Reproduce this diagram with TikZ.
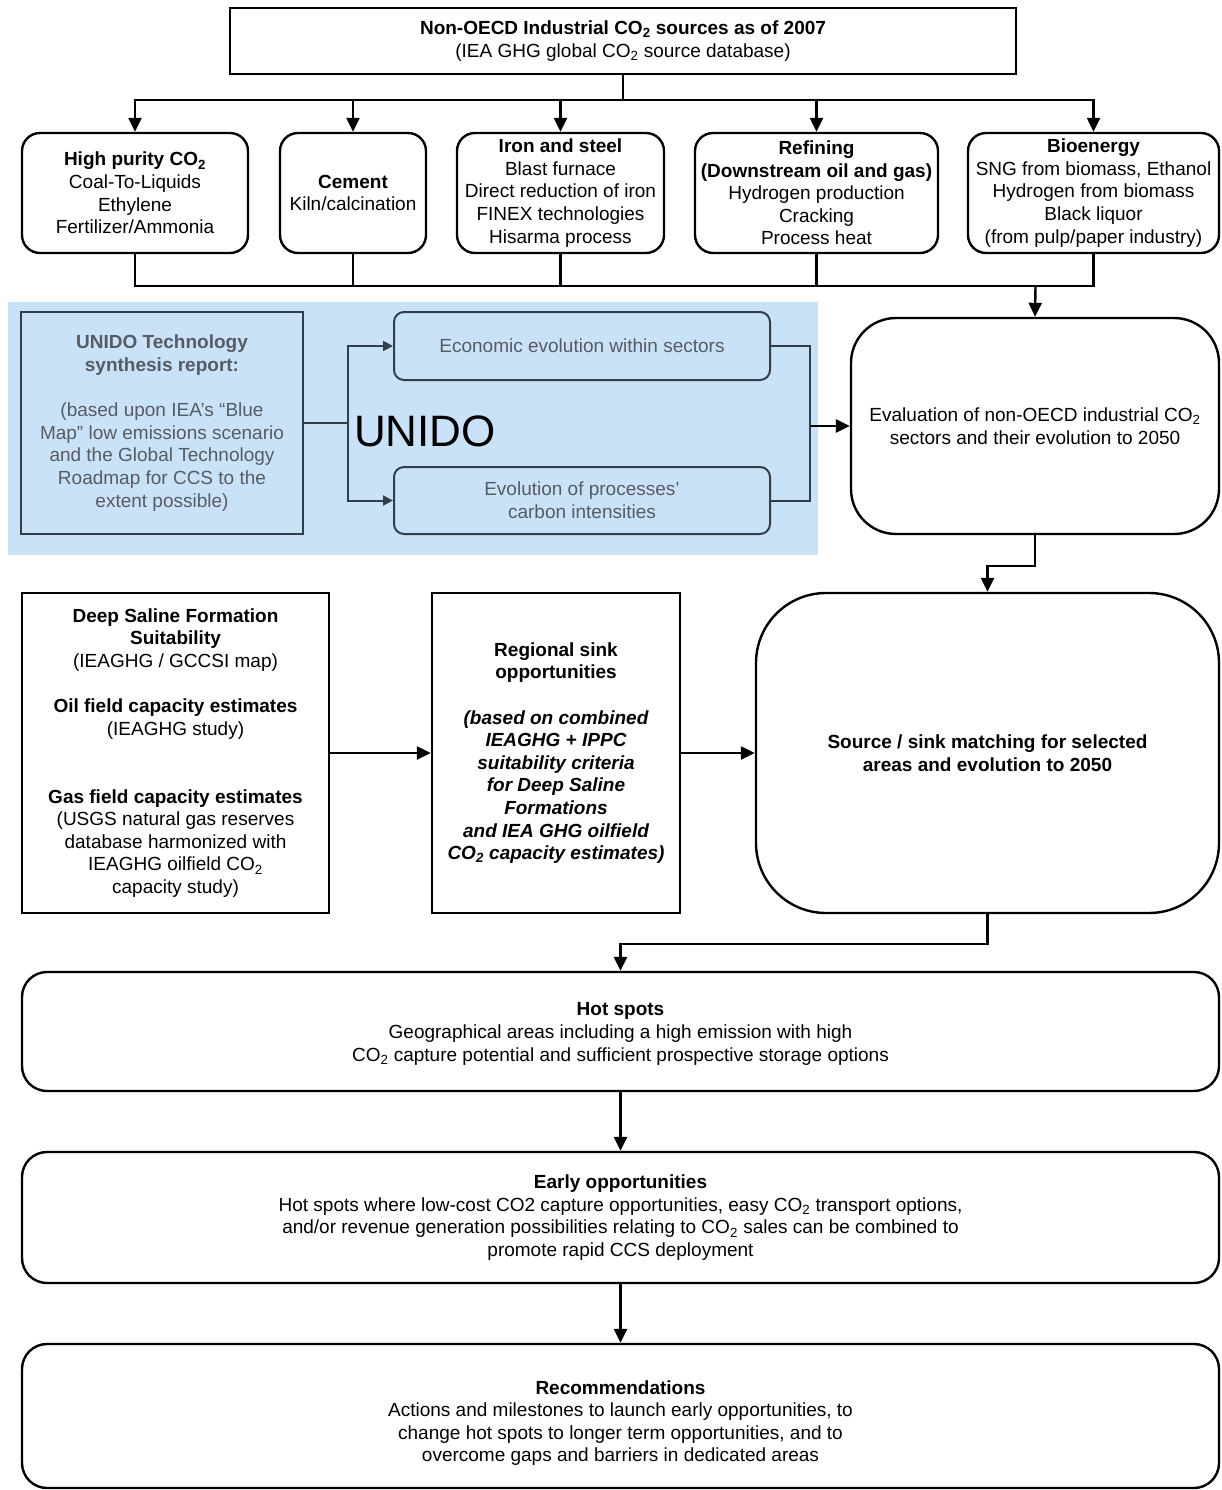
\documentclass[tikz,border=0pt]{standalone}
\usepackage{fontspec}
\setmainfont{Liberation Sans}
\usetikzlibrary{arrows.meta}
\definecolor{bluebg}{RGB}{202,226,248}
\definecolor{uline}{RGB}{50,62,76}
\definecolor{utext}{RGB}{85,92,100}
\newcommand{\cotwo}{CO\textsubscript{2}}
\begin{document}
\begin{tikzpicture}[x=1pt,y=-1pt,
  base/.style={draw, line width=2.4pt, align=center, font=\fontsize{19}{22.6}\selectfont, inner sep=0pt},
  rnd/.style={base, rounded corners=#1},
  txt/.style={align=center, font=\fontsize{19}{22.6}\selectfont, inner sep=0pt},
  ubox/.style={draw=uline, line width=2pt, align=center, text=utext, font=\fontsize{19}{22.6}\selectfont, inner sep=0pt},
  ln/.style={line width=2.4pt},
  arr/.style={line width=2.4pt, -{Triangle[width=13pt,length=14pt]}},
  uln/.style={draw=uline, line width=2pt},
  uarr/.style={draw=uline, line width=2pt, -{Triangle[width=10pt,length=10pt]}}
]
\useasboundingbox (0,0) rectangle (1221,1490);
\fill[white] (0,0) rectangle (1221,1490);

% top
\node[base, minimum width=786pt, minimum height=66pt] (top) at (623,41)
  {\textbf{Non-OECD Industrial \cotwo{} sources as of 2007}\\(IEA GHG global \cotwo{} source database)};

% sector boxes
\node[rnd=18pt, minimum width=226pt, minimum height=120pt] (hp) at (135,193)
  {\textbf{High purity \cotwo}\\Coal-To-Liquids\\Ethylene\\Fertilizer/Ammonia};
\node[rnd=18pt, minimum width=146pt, minimum height=120pt] (cem) at (353,193)
  {\textbf{Cement}\\Kiln/calcination};
\node[rnd=18pt, minimum width=207pt, minimum height=120pt] (iron) at (560.5,193)
  {\textbf{Iron and steel}\\Blast furnace\\Direct reduction of iron\\FINEX technologies\\Hisarma process};
\node[rnd=18pt, minimum width=243pt, minimum height=120pt] (ref) at (816.5,193)
  {\textbf{Refining}\\\textbf{(Downstream oil and gas)}\\Hydrogen production\\Cracking\\Process heat};
\node[rnd=18pt, minimum width=251pt, minimum height=120pt] (bio) at (1093.5,193)
  {\textbf{Bioenergy}\\SNG from biomass, Ethanol\\Hydrogen from biomass\\Black liquor\\(from pulp/paper industry)};

\coordinate (busA) at (623,100);
\draw[ln] (top.south) -- (busA);
\foreach \n in {hp,cem,iron,ref,bio} \draw[arr] (busA) -| (\n.north);

\coordinate (busB) at (1035.5,286);
\foreach \n in {hp,cem,iron,ref,bio} \draw[ln] (\n.south) |- (busB);

% UNIDO region
\fill[bluebg] (8,302) rectangle (818,555);
\node[ubox, minimum width=282pt, minimum height=222pt] (uni) at (162,423)
  {\textbf{UNIDO Technology}\\\textbf{synthesis report:}\\[22.6pt](based upon IEA's “Blue\\Map” low emissions scenario\\and the Global Technology\\Roadmap for CCS to the\\extent possible)};
\node[ubox, rounded corners=10pt, minimum width=376pt, minimum height=68pt] (econ) at (582,346)
  {Economic evolution within sectors};
\node[ubox, rounded corners=10pt, minimum width=376pt, minimum height=67pt] (evol) at (582,500.5)
  {Evolution of processes'\\carbon intensities};
\node[font=\fontsize{44}{50}\selectfont, inner sep=0pt] (unido) at (425,431) {UNIDO};

\coordinate (sp) at (348,423);
\draw[uln] (uni.east) -- (sp);
\draw[uarr] (sp) |- (econ.west);
\draw[uarr] (sp) |- (evol.west);

% evaluation
\node[rnd=45pt, minimum width=368pt, minimum height=216pt] (eval) at (1035,426)
  {Evaluation of non-OECD industrial \cotwo\\sectors and their evolution to 2050};
\draw[arr] (busB) -- (eval.north);

\coordinate (mj) at (810,426);
\draw[uln] (econ.east) -| (mj);
\draw[uln] (evol.east) -| (mj);
\draw[arr] (mj) -- (eval.west);

% sinks
\node[base, minimum width=307pt, minimum height=320pt] (ds) at (175.5,753)
  {\textbf{Deep Saline Formation}\\\textbf{Suitability}\\(IEAGHG / GCCSI map)\\[22.6pt]\textbf{Oil field capacity estimates}\\(IEAGHG study)\\[45.2pt]\textbf{Gas field capacity estimates}\\(USGS natural gas reserves\\database harmonized with\\IEAGHG oilfield \cotwo\\capacity study)};
\node[base, minimum width=248pt, minimum height=320pt] (reg) at (556,753)
  {\textbf{Regional sink}\\\textbf{opportunities}\\[22.6pt]\bfseries\itshape (based on combined\\\bfseries\itshape IEAGHG + IPPC\\\bfseries\itshape suitability criteria\\\bfseries\itshape for Deep Saline\\\bfseries\itshape Formations\\\bfseries\itshape and IEA GHG oilfield\\\bfseries\itshape \cotwo{} capacity estimates)};
\node[rnd=70pt, minimum width=463pt, minimum height=320pt] (ss) at (987.5,753)
  {\textbf{Source / sink matching for selected}\\\textbf{areas and evolution to 2050}};

\draw[arr] (eval.south) -- ++(0,31) -| (ss.north);
\draw[arr] (ds.east) -- (reg.west);
\draw[arr] (reg.east) -- (ss.west);

% bottom chain
\node[rnd=25pt, minimum width=1197pt, minimum height=119pt] (hot) at (620.5,1031.5) {};
\node[txt] (hottext) at (620.5,1034)
  {\textbf{Hot spots}\\Geographical areas including a high emission with high\\\cotwo{} capture potential and sufficient prospective storage options};
\node[rnd=25pt, minimum width=1197pt, minimum height=131pt] (early) at (620.5,1217.5)
  {\textbf{Early opportunities}\\Hot spots where low-cost CO2 capture opportunities, easy \cotwo{} transport options,\\and/or revenue generation possibilities relating to \cotwo{} sales can be combined to\\promote rapid CCS deployment};
\node[rnd=25pt, minimum width=1197pt, minimum height=144pt] (rec) at (620.5,1416) {};
\node[txt] (rectext) at (620.5,1423)
  {\textbf{Recommendations}\\Actions and milestones to launch early opportunities, to\\change hot spots to longer term opportunities, and to\\overcome gaps and barriers in dedicated areas};

\draw[arr] (ss.south) -- ++(0,30) -| (hot.north);
\draw[arr] (hot.south) -- (early.north);
\draw[arr] (early.south) -- (rec.north);
\end{tikzpicture}
\end{document}
